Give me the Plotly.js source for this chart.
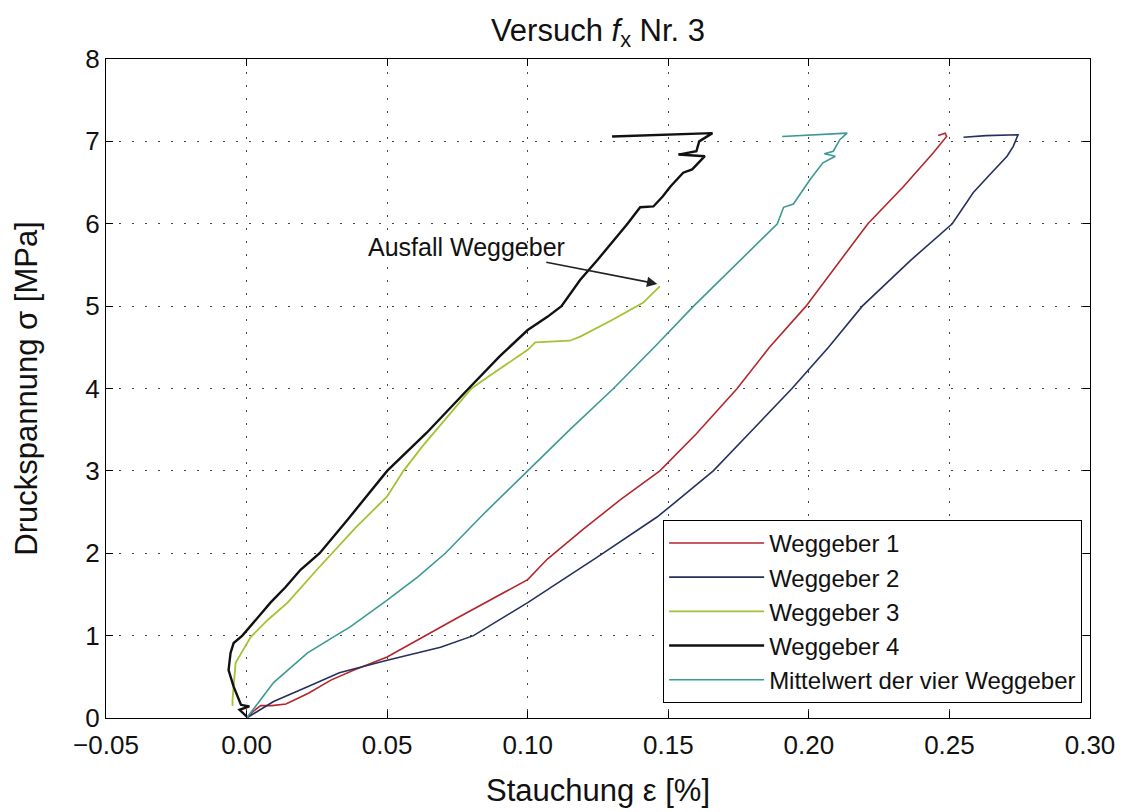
<!DOCTYPE html>
<html>
<head>
<meta charset="utf-8">
<script src="https://cdn.plot.ly/plotly-3.0.1.min.js"></script>
<style>html,body{margin:0;padding:0;background:#fff;}#chart{width:1130px;height:812px;}</style>
</head>
<body>
<div id="chart"></div>
<script>
// Weggeber 1 (red)
const w1X = [0,0.002,0.005,0.009,0.014,0.022,0.030,0.038,0.050,0.0736,0.100,0.107,0.120,0.133,0.147,0.160,0.1745,0.186,0.199,0.210,0.221,0.2336,0.2442,0.249,0.2485,0.246];
const w1Y = [0,0.07,0.15,0.15,0.17,0.30,0.46,0.58,0.74,1.19,1.68,1.93,2.30,2.65,3.0,3.45,4.0,4.5,5.0,5.5,6.0,6.45,6.86,7.06,7.10,7.07];
// Weggeber 2 (blue)
const w2X = [0,0.004,0.0096,0.0217,0.033,0.050,0.069,0.0807,0.100,0.125,0.1376,0.146,0.1507,0.166,0.180,0.194,0.207,0.219,0.236,0.251,0.2585,0.263,0.2645,0.2705,0.2727,0.2744,0.263,0.255];
const w2Y = [0,0.08,0.20,0.38,0.55,0.70,0.86,1.0,1.40,1.96,2.25,2.44,2.57,3.0,3.5,4.0,4.5,5.0,5.55,6.0,6.38,6.54,6.60,6.82,6.94,7.08,7.07,7.05];
// Weggeber 3 (yellow-green)
const w3X = [-0.005,-0.005,-0.0039,0.0014,0.0075,0.0146,0.025,0.0305,0.0388,0.050,0.0558,0.0626,0.0736,0.080,0.0867,0.100,0.1027,0.115,0.1187,0.1305,0.141,0.147];
const w3Y = [0.15,0.22,0.67,0.98,1.19,1.40,1.80,2.0,2.31,2.69,3.0,3.3,3.74,4.0,4.16,4.47,4.56,4.58,4.63,4.84,5.04,5.24];
// Weggeber 4 (black)
const w4X = [0.0,-0.0025,0.001,-0.002,-0.0046,-0.0064,-0.0057,-0.0046,-0.0015,0.0032,0.0085,0.0139,0.0192,0.026,0.036,0.050,0.064,0.079,0.090,0.100,0.107,0.112,0.1187,0.1248,0.1355,0.140,0.1447,0.148,0.1507,0.1553,0.1585,0.163,0.1536,0.160,0.161,0.1657,0.130];
const w4Y = [0.02,0.10,0.14,0.16,0.38,0.58,0.79,0.91,1.0,1.19,1.40,1.59,1.80,2.0,2.41,3.0,3.46,4.0,4.39,4.71,4.87,5.0,5.32,5.56,6.0,6.2,6.21,6.33,6.45,6.62,6.66,6.82,6.84,6.88,7.0,7.10,7.06];
// Mittelwert der vier Weggeber (teal)
const mwX = [0,0.0014,0.0045,0.0096,0.0217,0.0317,0.037,0.050,0.0608,0.0707,0.085,0.100,0.115,0.1305,0.145,0.159,0.174,0.1888,0.191,0.1945,0.2005,0.205,0.2094,0.2055,0.2087,0.211,0.2136,0.1905];
const mwY = [0,0.06,0.2,0.43,0.79,1.0,1.11,1.43,1.71,2.0,2.5,3.0,3.5,4.0,4.5,5.0,5.5,6.0,6.2,6.24,6.54,6.74,6.82,6.85,6.88,7.02,7.10,7.06];

const seriesNames = ['Weggeber 1','Weggeber 2','Weggeber 3','Weggeber 4','Mittelwert der vier Weggeber'];
const xTickVals = [-0.05,0,0.05,0.10,0.15,0.20,0.25,0.30];
const yTickVals = [0,1,2,3,4,5,6,7,8];

const colors = ['#b3262c','#26305e','#a3c234','#111111','#3b9a92'];
const widths = [1.6,1.6,1.8,2.4,1.6];
const xs = [w1X,w2X,w3X,w4X,mwX];
const ys = [w1Y,w2Y,w3Y,w4Y,mwY];

const traces = seriesNames.map((n,i)=>({
  type:'scatter', mode:'lines', name:n, x:xs[i], y:ys[i],
  legendgroup:'g'+i,
  line:{color:colors[i], width:widths[i]}
}));

const fam = 'Liberation Sans, Arial, sans-serif';
const tickFont = {family:fam, size:26, color:'#111'};
const titleFont = {family:fam, size:31, color:'#111'};

const layout = {
  width:1130, height:812,
  paper_bgcolor:'#ffffff', plot_bgcolor:'#ffffff',
  margin:{l:106, r:40, t:59, b:94},
  title:{text:'Versuch <i>f</i><sub>x</sub> Nr. 3', font:titleFont, x:0.5, xref:'paper', y:1-30/812, yref:'container', yanchor:'middle'},
  showlegend:true,
  legend:{x:0.992, y:0.023, xanchor:'right', yanchor:'bottom', bgcolor:'#ffffff', bordercolor:'#000', borderwidth:1,
    font:{family:fam, size:24, color:'#111'}, itemwidth:95, tracegroupgap:0, traceorder:'grouped'},
  xaxis:{range:[-0.05,0.30], tickvals:xTickVals, tickformat:'.2f', tickfont:tickFont, ticklabelstandoff:4,
    title:{text:'Stauchung ε [%]', font:titleFont, standoff:19},
    showline:true, mirror:'ticks', linecolor:'#000', linewidth:1.2,
    ticks:'inside', ticklen:7, tickcolor:'#000',
    showgrid:true, gridcolor:'#444', griddash:'2px,11px', gridwidth:1.2, zeroline:false, automargin:false},
  yaxis:{range:[0,8], tickvals:yTickVals, tickfont:tickFont,
    title:{text:'Druckspannung σ [MPa]', font:titleFont, standoff:38},
    showline:true, mirror:'ticks', linecolor:'#000', linewidth:1.2,
    ticks:'inside', ticklen:7, tickcolor:'#000',
    showgrid:true, gridcolor:'#444', griddash:'2px,11px', gridwidth:1.2, zeroline:false, automargin:false},
  annotations:[{
    x:0.1461, y:5.27, xref:'x', yref:'y',
    ax:0.0782, ay:5.72, axref:'x', ayref:'y',
    text:'Ausfall Weggeber', showarrow:true, arrowhead:2, arrowsize:1.3, arrowwidth:1.6, arrowcolor:'#222',
    font:{family:fam, size:25, color:'#111'}
  }]
};

Plotly.newPlot('chart', traces, layout, {displayModeBar:false, staticPlot:true});
</script>
</body>
</html>
